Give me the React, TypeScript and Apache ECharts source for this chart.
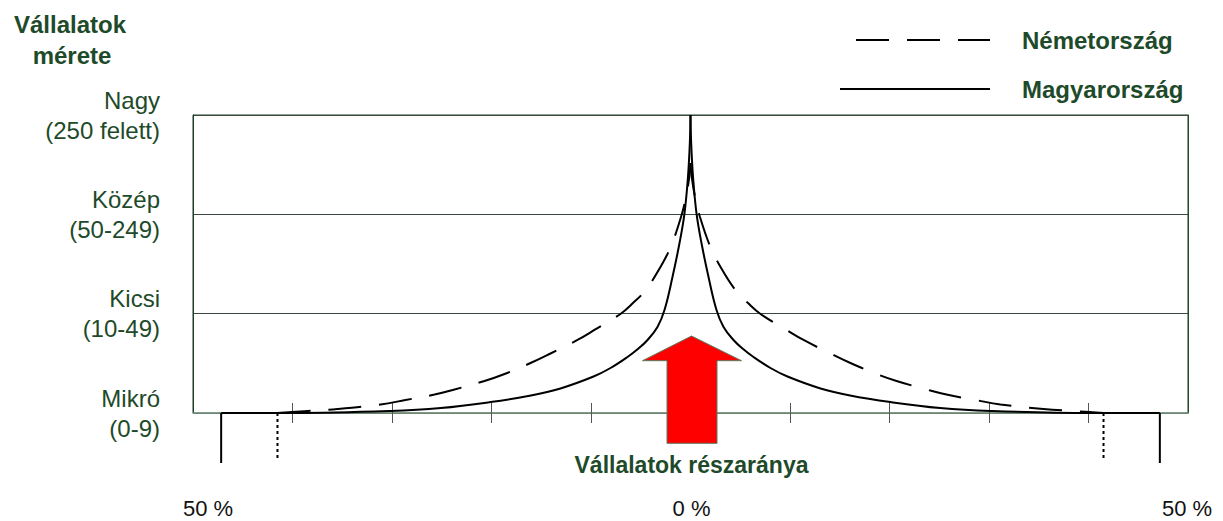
import React, { useEffect, useRef } from "react";
import * as echarts from "echarts";

// Size categories (y levels 0..3)
const sizeLabels = ["Mikró\n(0-9)", "Kicsi\n(10-49)", "Közép\n(50-249)", "Nagy\n(250 felett)"];
// x-axis tick positions (share, %)
const xTickValues = [-42.4, -31.8, -21.2, -10.6, 0, 10.6, 21.2, 31.8, 42.4];
// bottom share labels
const shareLabels = ["50 %", "0 %", "50 %"];
// series names
const seriesNames = ["Németország", "Magyarország"];

// Hungary (solid) curve, left branch: [share %, size level]
const hungaryLeft: [number, number][] = [
  [-50, 0], [-42.6, 0], [-32, 0.02], [-26.6, 0.05], [-21.3, 0.11], [-17, 0.176],
  [-13.85, 0.247], [-10.33, 0.367], [-8.52, 0.453], [-6.71, 0.564], [-5.54, 0.649],
  [-4.58, 0.735], [-3.52, 0.866], [-2.77, 1.037], [-1.92, 1.369], [-1.17, 1.711],
  [-0.64, 2.01], [-0.27, 2.376], [-0.07, 2.72], [0, 3],
];
// Germany (dashed) curve, left branch
const germanyLeft: [number, number][] = [
  [-44, 0], [-41.12, 0.018], [-37.6, 0.04], [-33.02, 0.086], [-30.36, 0.131], [-27.27, 0.186],
  [-25.14, 0.237], [-21.95, 0.322], [-19.81, 0.393], [-17.04, 0.503], [-14.91, 0.599],
  [-12.04, 0.735], [-10.23, 0.836], [-7.46, 0.997], [-6.18, 1.102], [-4.74, 1.243],
  [-3.2, 1.47], [-2.08, 1.681], [-1.01, 1.973], [-0.48, 2.175], [-0.13, 2.376], [0, 2.517],
];

const mirror = (pts: [number, number][]) => pts.map(([x, y]) => [-x, y] as [number, number]).reverse();

const GREEN = "#1e4a2a";
const FONT = '"Liberation Sans", Arial, sans-serif';

export default function App() {
  const ref = useRef<HTMLDivElement>(null);
  useEffect(() => {
    if (!ref.current) return;
    const chart = echarts.init(ref.current, undefined, { renderer: "svg" });
    const solid = { color: "#000", width: 2 };
    const dashed = { color: "#000", width: 2, type: [33, 18] as any };
    const xBase: any = {
      type: "value", min: -53, max: 53, interval: 10.6,
      axisLabel: { show: false }, splitLine: { show: false },
    };
    const smooth = 0.4;
    chart.setOption({
      animation: false,
      grid: { left: 193, right: 35, top: 115, bottom: 108, show: true, borderColor: "#1f3d29", borderWidth: 1 },
      xAxis: [
        {
          ...xBase, position: "bottom",
          axisLine: { show: true, onZero: false, lineStyle: { color: "#7f9a86", width: 1.5 } },
          axisTick: { show: true, inside: true, length: 10, customValues: xTickValues, lineStyle: { color: "#555", width: 1 } },
        },
        {
          ...xBase, position: "bottom",
          axisLine: { show: false, onZero: false },
          axisTick: { show: true, inside: false, length: 10, customValues: xTickValues, lineStyle: { color: "#555", width: 1 } },
        },
      ],
      yAxis: [
        {
          type: "value", min: 0, max: 3, interval: 1,
          axisLine: { show: true, onZero: false, lineStyle: { color: "#1f3d29" } },
          axisTick: { show: false },
          splitLine: { show: true, lineStyle: { color: "#3c4a40", width: 1 } },
          axisLabel: {
            show: true, margin: 33, color: GREEN, fontSize: 24, lineHeight: 30, fontFamily: FONT,
            formatter: (v: number) => sizeLabels[Math.round(v)] ?? "",
          },
        },
        {
          type: "value", min: 0, max: 3, interval: 1, position: "right",
          axisLine: { show: true, onZero: false, lineStyle: { color: "#1f4d2a" } },
          axisTick: { show: false }, axisLabel: { show: false }, splitLine: { show: false },
        },
      ],
      series: [
        { name: seriesNames[0], type: "line", data: germanyLeft, showSymbol: false, symbol: "none", smooth, lineStyle: dashed, clip: false, z: 3 },
        { name: seriesNames[0], type: "line", data: mirror(germanyLeft), showSymbol: false, symbol: "none", smooth, lineStyle: dashed, clip: false, z: 3 },
        { name: seriesNames[1], type: "line", data: hungaryLeft, showSymbol: false, symbol: "none", smooth, lineStyle: solid, clip: false, z: 4 },
        { name: seriesNames[1], type: "line", data: mirror(hungaryLeft), showSymbol: false, symbol: "none", smooth, lineStyle: solid, clip: false, z: 4 },
      ],
    });

    const px = (v: number) => chart.convertToPixel({ xAxisIndex: 0 }, v) as number;
    const py = (v: number) => chart.convertToPixel({ yAxisIndex: 0 }, v) as number;
    const base = py(0);
    const huEdge = hungaryLeft[0][0];
    const deEdge = germanyLeft[0][0];
    const cx = px(0);

    const txt = (text: string, x: number, y: number, size: number, bold: boolean, align: string, color: string) => ({
      type: "text", x, y, z: 20,
      style: {
        text, fill: color, fontSize: size, fontWeight: bold ? "bold" : "normal", fontFamily: FONT,
        align, verticalAlign: "middle", textAlign: align, textVerticalAlign: "middle",
      },
    });

    const elements: any[] = [
      // drop lines at micro shares
      { type: "line", z: 10, shape: { x1: px(huEdge), y1: base, x2: px(huEdge), y2: base + 50 }, style: { stroke: "#000", lineWidth: 2 } },
      { type: "line", z: 10, shape: { x1: px(-huEdge), y1: base, x2: px(-huEdge), y2: base + 50 }, style: { stroke: "#000", lineWidth: 2 } },
      { type: "line", z: 10, shape: { x1: px(deEdge), y1: base, x2: px(deEdge), y2: base + 47 }, style: { stroke: "#000", lineWidth: 2, lineDash: [3, 3] } },
      { type: "line", z: 10, shape: { x1: px(-deEdge), y1: base, x2: px(-deEdge), y2: base + 47 }, style: { stroke: "#000", lineWidth: 2, lineDash: [3, 3] } },
      // red arrow
      {
        type: "polygon", z: 15,
        shape: {
          points: [
            [cx + 1, base - 77], [cx + 51, base - 52.3], [cx + 26.5, base - 52.3], [cx + 26.5, base + 30.3],
            [cx - 23.5, base + 30.3], [cx - 23.5, base - 52.3], [cx - 48, base - 52.3],
          ],
        },
        style: { fill: "#ff0000", stroke: "#5b7a60", lineWidth: 1 },
      },
      // titles
      txt("Vállalatok", 70, 24, 24, true, "center", GREEN),
      txt("mérete", 72, 55, 24, true, "center", GREEN),
      txt("Vállalatok részaránya", cx + 1, 465, 23, true, "center", GREEN),
      // bottom labels
      txt(shareLabels[0], 208, 508, 22, false, "center", "#111"),
      txt(shareLabels[1], cx + 1, 508, 22, false, "center", "#111"),
      txt(shareLabels[2], 1187, 508, 22, false, "center", "#111"),
      // legend
      { type: "line", z: 10, shape: { x1: 856, y1: 40, x2: 990, y2: 40 }, style: { stroke: "#000", lineWidth: 2, lineDash: [33, 18] } },
      { type: "line", z: 10, shape: { x1: 840, y1: 89, x2: 990, y2: 89 }, style: { stroke: "#000", lineWidth: 2 } },
      txt(seriesNames[0], 1022, 40, 24, true, "left", GREEN),
      txt(seriesNames[1], 1022, 89, 24, true, "left", GREEN),
    ];
    chart.setOption({ graphic: { elements } });
    return () => chart.dispose();
  }, []);
  return <div ref={ref} style={{ position: "fixed", left: 0, top: 0, width: 1223, height: 521, background: "#fff" }} />;
}
